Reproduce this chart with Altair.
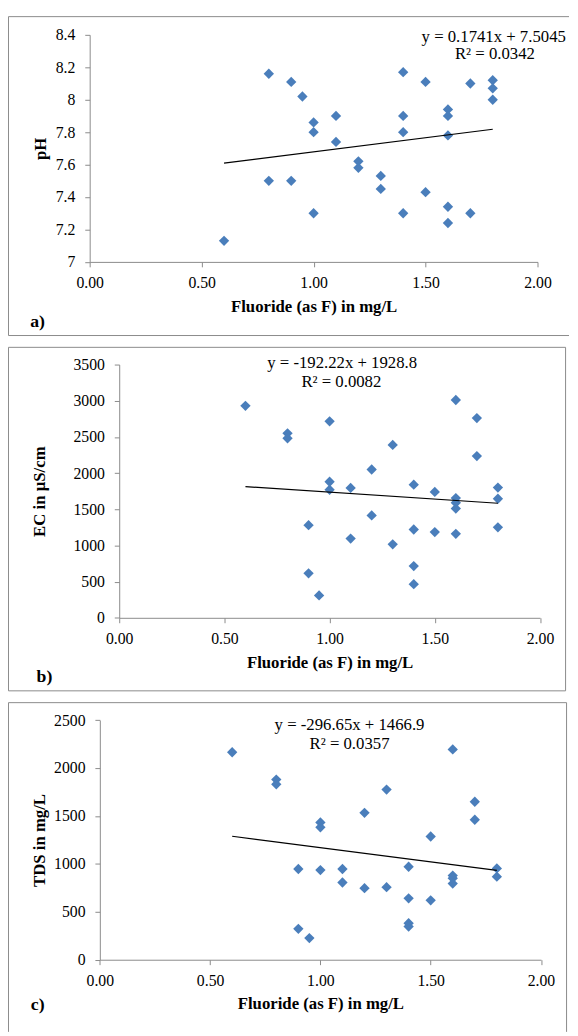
import altair as alt
import pandas as pd

# ---------------- data ----------------
FLUORIDE = [0.6, 0.8, 0.8, 0.9, 0.9, 0.95, 1.0, 1.0, 1.0, 1.1, 1.1, 1.2, 1.2, 1.3, 1.3,
            1.4, 1.4, 1.4, 1.4, 1.5, 1.5, 1.6, 1.6, 1.6, 1.6, 1.6, 1.7, 1.7, 1.8, 1.8, 1.8]
PH = [7.13, 8.16, 7.50, 8.11, 7.50, 8.02, 7.86, 7.80, 7.30, 7.90, 7.74, 7.62, 7.58, 7.53, 7.45,
      8.17, 7.90, 7.80, 7.30, 8.11, 7.43, 7.94, 7.90, 7.78, 7.34, 7.24, 8.10, 7.30, 8.12, 8.07, 8.00]
EC = [2930, 2550, 2480, 1280, 615, 310, 2715, 1880, 1770, 1795, 1095, 2050, 1415, 2390, 1015,
      1840, 1220, 715, 465, 1740, 1185, 3010, 1655, 1590, 1510, 1160, 2760, 2235, 1800, 1645, 1250]
FLUORIDE_TDS = [0.6, 0.8, 0.8, 0.9, 0.9, 0.95, 1.0, 1.0, 1.0, 1.1, 1.1, 1.2, 1.2, 1.3, 1.3,
                1.4, 1.4, 1.4, 1.4, 1.5, 1.5, 1.6, 1.6, 1.6, 1.6, 1.7, 1.7, 1.8, 1.8]
TDS = [2165, 1880, 1830, 947, 322, 226, 1433, 1382, 936, 947, 806, 1533, 747, 1776, 757,
       970, 641, 381, 346, 1286, 620, 2195, 878, 850, 795, 1649, 1461, 953, 867]

# trend-line coefficients and labels printed on the chart
SLOPES = [0.1741, -192.22, -296.65]
INTERCEPTS = [7.5045, 1928.8, 1466.9]
EQUATIONS = ["y = 0.1741x + 7.5045", "y = -192.22x + 1928.8", "y = -296.65x + 1466.9"]
R2_LABELS = ["R² = 0.0342", "R² = 0.0082", "R² = 0.0357"]
Y_TITLES = ["pH", "EC in µS/cm", "TDS in mg/L"]
TAGS = ["a)", "b)", "c)"]
X_TITLE = "Fluoride (as F) in mg/L"
X_TICKS = [0, 0.5, 1.0, 1.5, 2.0]
Y_TICKS = [[7.0, 7.2, 7.4, 7.6, 7.8, 8.0, 8.2, 8.4],
           [0, 500, 1000, 1500, 2000, 2500, 3000, 3500],
           [0, 500, 1000, 1500, 2000, 2500]]
Y_FORMATS = [".1~f", "d", "d"]

# ---------------- styling / layout ----------------
SERIF = "Times New Roman, Liberation Serif, serif"
BLUE = "#4a7ebb"
GRAY = "#8a8a8a"

GEOM = [
    dict(W=570, H=325, px=(83, 538), py=(19, 249.7), ytp=6,
         eq=(493.5, 21.3), r2=(494.7, 39.0), tag=(22.5, 311.3),
         borders=[(0.5, 0.5, 0.5, 324.5), (0.5, 0.5, 570, 0.5), (0.5, 324.5, 570, 324.5)]),
    dict(W=567, H=350, px=(113, 540.5), py=(18, 275.3), ytp=25,
         eq=(339.5, 17.0), r2=(338.7, 35.3), tag=(29, 335.3),
         borders=[(0.5, 0.5, 0.5, 349.5), (0.5, 0.5, 566.5, 0.5), (0.5, 349.5, 566.5, 349.5),
                  (566.5, 0.5, 566.5, 349.5)]),
    dict(W=568, H=335, px=(93.3, 541.5), py=(18.3, 261.7), ytp=5.5,
         eq=(347, 23.3), r2=(347, 42.7), tag=(23.2, 308.0),
         borders=[(0.5, 0.5, 0.5, 335), (0.5, 0.5, 567.5, 0.5), (567.5, 0.5, 567.5, 335)]),
]

one = pd.DataFrame({"k": [0]})


def text_layer(txt, pos, size, bold=False, align="center"):
    return alt.Chart(pd.DataFrame({"t": [txt]})).mark_text(
        font=SERIF, fontSize=size, fontWeight="bold" if bold else "normal",
        color="black", align=align, baseline="middle"
    ).encode(x=alt.value(pos[0]), y=alt.value(pos[1]), text="t:N")


def panel(i, fx, vals):
    g = GEOM[i]
    df = pd.DataFrame({"F": fx, "v": vals})
    lo, hi = min(fx), max(fx)
    line_df = pd.DataFrame({"F": [lo, hi],
                            "v": [SLOPES[i] * lo + INTERCEPTS[i], SLOPES[i] * hi + INTERCEPTS[i]]})
    yt = Y_TICKS[i]
    xscale = alt.Scale(domain=[0, 2], range=list(g["px"]), nice=False, zero=False)
    yscale = alt.Scale(domain=[yt[0], yt[-1]], range=[g["py"][1], g["py"][0]], nice=False, zero=False)
    xaxis = alt.Axis(values=X_TICKS, format=".2f", title=X_TITLE,
                     offset=-(g["H"] - g["py"][1]), labelPadding=8, titlePadding=8)
    yaxis = alt.Axis(values=yt, format=Y_FORMATS[i], title=Y_TITLES[i],
                     offset=-g["px"][0], labelPadding=10, titlePadding=g["ytp"])

    pts = alt.Chart(df).mark_point(shape="diamond", filled=True, size=110, color=BLUE, opacity=1).encode(
        x=alt.X("F:Q", scale=xscale, axis=xaxis),
        y=alt.Y("v:Q", scale=yscale, axis=yaxis),
    )
    trend = alt.Chart(line_df).mark_line(color="black", strokeWidth=1.2).encode(
        x=alt.X("F:Q", scale=xscale), y=alt.Y("v:Q", scale=yscale)
    )
    borders = [
        alt.Chart(one).mark_rule(color=GRAY, strokeWidth=1).encode(
            x=alt.value(b[0]), y=alt.value(b[1]), x2=alt.value(b[2]), y2=alt.value(b[3]))
        for b in g["borders"]
    ]
    texts = [
        text_layer(EQUATIONS[i], g["eq"], 17),
        text_layer(R2_LABELS[i], g["r2"], 17),
        text_layer(TAGS[i], g["tag"], 18, bold=True, align="left"),
    ]
    return alt.layer(*borders, pts, trend, *texts).properties(width=g["W"], height=g["H"])


chart = alt.vconcat(
    panel(0, FLUORIDE, PH),
    panel(1, FLUORIDE, EC),
    panel(2, FLUORIDE_TDS, TDS),
    spacing=11,
).properties(
    padding=0, background="white"
).configure_view(
    stroke=None
).configure_axis(
    grid=False, domainColor=GRAY, tickColor=GRAY, domainWidth=1, tickWidth=1, tickSize=5,
    labelFont=SERIF, labelFontSize=16, labelColor="black",
    titleFont=SERIF, titleFontSize=17, titleFontWeight="bold", titleColor="black",
    labelFlush=False, labelOverlap=False,
)

chart.save("out.html", embed_options={"renderer": "svg", "actions": False})
